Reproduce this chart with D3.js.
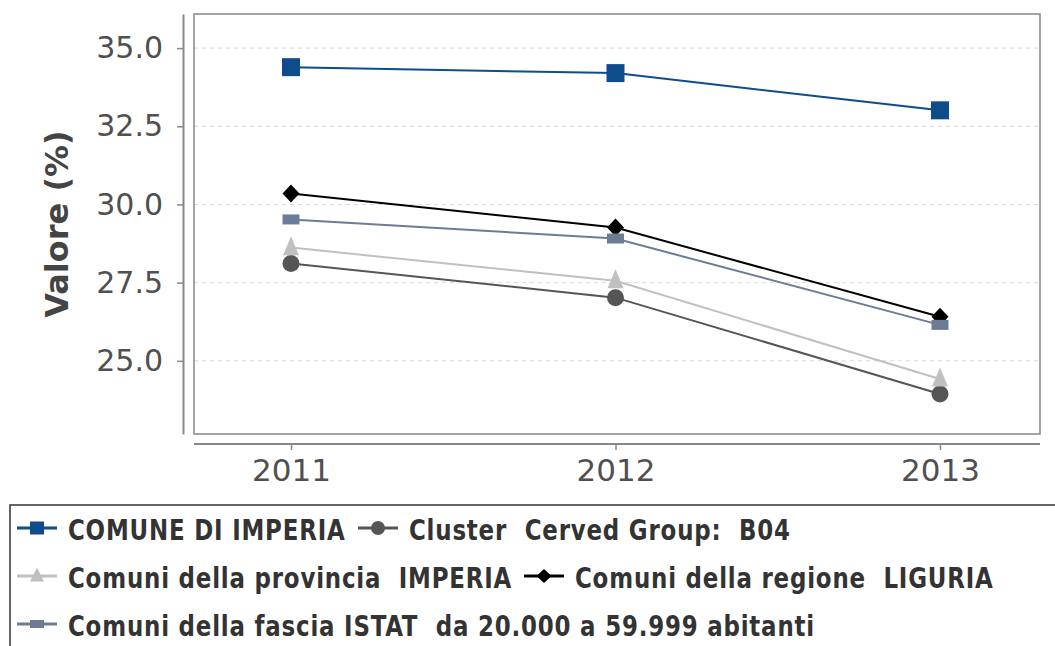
<!DOCTYPE html>
<html>
<head>
<meta charset="utf-8">
<script src="https://cdn.jsdelivr.net/npm/d3@7"></script>
<style>
  body { margin: 0; background: #fff; }
  svg { display: block; }
  .legend-text { white-space: pre; }
</style>
</head>
<body>
<div id="chart"></div>
<script>
// data
const years = ["2011", "2012", "2013"];
const seriesNames = [
    "COMUNE DI IMPERIA",
    "Cluster  Cerved Group:  B04",
    "Comuni della provincia  IMPERIA",
    "Comuni della regione  LIGURIA",
    "Comuni della fascia ISTAT  da 20.000 a 59.999 abitanti"
];
const imperia   = [34.39, 34.20, 33.01];
const cluster   = [28.11, 27.02, 23.94];
const provincia = [28.62, 27.56, 24.42];
const liguria   = [30.35, 29.26, 26.41];
const istat     = [29.52, 28.91, 26.15];
const yTicks = [25.0, 27.5, 30.0, 32.5, 35.0];

const allSeries = [imperia, cluster, provincia, liguria, istat];
const colors = ["#0f4c8c", "#555555", "#c0c0c0", "#000000", "#6b7d95"];

// custom marker shapes (w, h in px)
function rectSym(w, h) {
    return { draw(ctx) { ctx.rect(-w / 2, -h / 2, w, h); } };
}
function diamondSym(w, h) {
    return { draw(ctx) {
        ctx.moveTo(0, -h / 2); ctx.lineTo(w / 2, 0);
        ctx.lineTo(0, h / 2); ctx.lineTo(-w / 2, 0); ctx.closePath();
    } };
}
function triSym(w, h) {
    return { draw(ctx) {
        ctx.moveTo(0, -h * 0.6); ctx.lineTo(w / 2, h * 0.4);
        ctx.lineTo(-w / 2, h * 0.4); ctx.closePath();
    } };
}
function circSym(d) {
    return { draw(ctx) { ctx.moveTo(d / 2, 0); ctx.arc(0, 0, d / 2, 0, 2 * Math.PI); } };
}

const plotSymbols = [rectSym(18, 18), circSym(17), triSym(16, 19), diamondSym(17, 18), rectSym(17, 10)];
const legendSymbols = [rectSym(14, 13), circSym(14), triSym(14, 14), diamondSym(15, 14), rectSym(14, 8)];

const width = 1055, height = 646;
const plot = {left: 194, right: 1040, top: 14, bottom: 434};

const svg = d3.select("#chart").append("svg")
    .attr("width", width)
    .attr("height", height);

// scales
const x = d3.scalePoint()
    .domain(years)
    .range([291, 940]);

const y = d3.scaleLinear()
    .domain([22.66, 36.09])
    .range([plot.bottom, plot.top]);

// grid
svg.append("g")
    .selectAll("line")
    .data(yTicks)
    .enter()
    .append("line")
    .attr("x1", plot.left)
    .attr("x2", plot.right)
    .attr("y1", d => y(d))
    .attr("y2", d => y(d))
    .attr("stroke", "#d8d8d8")
    .attr("stroke-dasharray", "4,4");

// plot border
svg.append("rect")
    .attr("x", plot.left)
    .attr("y", plot.top)
    .attr("width", plot.right - plot.left)
    .attr("height", plot.bottom - plot.top)
    .attr("fill", "none")
    .attr("stroke", "#888")
    .attr("stroke-width", 1.5);

// y axis
const yAxis = svg.append("g")
    .attr("transform", "translate(183,0)")
    .call(d3.axisLeft(y).tickValues(yTicks).tickFormat(d3.format(".1f")).tickSize(6).tickSizeOuter(0));
yAxis.select(".domain").attr("stroke", "#888").attr("stroke-width", 2);
yAxis.selectAll(".tick line").attr("stroke", "#888").attr("stroke-width", 1.5);
yAxis.selectAll("text")
    .attr("fill", "#505050")
    .style("font-family", "DejaVu Sans")
    .style("font-size", "30px")
    .attr("x", -20);

// x axis
const xAxis = svg.append("g")
    .attr("transform", "translate(0,444)")
    .call(d3.axisBottom(x).tickSize(6).tickSizeOuter(0));
xAxis.select(".domain").attr("d", `M${plot.left},0H${plot.right}`).attr("stroke", "#888").attr("stroke-width", 2);
xAxis.selectAll(".tick line").attr("stroke", "#888").attr("stroke-width", 1.5);
xAxis.selectAll("text")
    .attr("fill", "#505050")
    .style("font-family", "DejaVu Sans")
    .style("font-size", "31px")
    .attr("y", 15);

// y label
svg.append("text")
    .attr("transform", "translate(68,224) rotate(-90)")
    .attr("text-anchor", "middle")
    .attr("fill", "#444")
    .style("font-family", "DejaVu Sans")
    .style("font-weight", "bold")
    .style("font-size", "32px")
    .text("Valore (%)");

// lines and markers
const line = d3.line()
    .x((d, i) => x(years[i]))
    .y(d => y(d));

allSeries.forEach((vals, k) => {
    svg.append("path")
        .datum(vals)
        .attr("fill", "none")
        .attr("stroke", colors[k])
        .attr("stroke-width", 2)
        .attr("d", line);

    svg.append("g")
        .selectAll("path")
        .data(vals)
        .enter()
        .append("path")
        .attr("transform", (d, i) => `translate(${x(years[i])},${y(d)})`)
        .attr("d", d3.symbol().type(plotSymbols[k])())
        .attr("fill", colors[k]);
});

// legend
svg.append("rect")
    .attr("x", 10)
    .attr("y", 505)
    .attr("width", 1060)
    .attr("height", 160)
    .attr("fill", "none")
    .attr("stroke", "#333")
    .attr("stroke-width", 1.5);

const legendPos = [
    {x: 17, y: 530}, {x: 358, y: 530},
    {x: 17, y: 578}, {x: 524, y: 578},
    {x: 17, y: 626}
];

const leg = svg.append("g")
    .selectAll("g")
    .data(seriesNames)
    .enter()
    .append("g")
    .attr("transform", (d, i) => `translate(${legendPos[i].x},${legendPos[i].y})`);

leg.append("line")
    .attr("x1", 0)
    .attr("x2", 40)
    .attr("y1", -2)
    .attr("y2", -2)
    .attr("stroke", (d, i) => colors[i])
    .attr("stroke-width", 3);

leg.append("path")
    .attr("transform", "translate(20,-2)")
    .attr("d", (d, i) => d3.symbol().type(legendSymbols[i])())
    .attr("fill", (d, i) => colors[i]);

leg.append("text")
    .attr("class", "legend-text")
    .attr("xml:space", "preserve")
    .attr("x", 51)
    .attr("transform", "scale(1,1.12)")
    .attr("dy", "0.35em")
    .attr("fill", "#333")
    .style("font-family", "DejaVu Sans Condensed, DejaVu Sans")
    .style("font-stretch", "condensed")
    .style("font-weight", "bold")
    .style("font-size", "25.5px")
    .style("letter-spacing", "0.8px")
    .text(d => d);
</script>
</body>
</html>
